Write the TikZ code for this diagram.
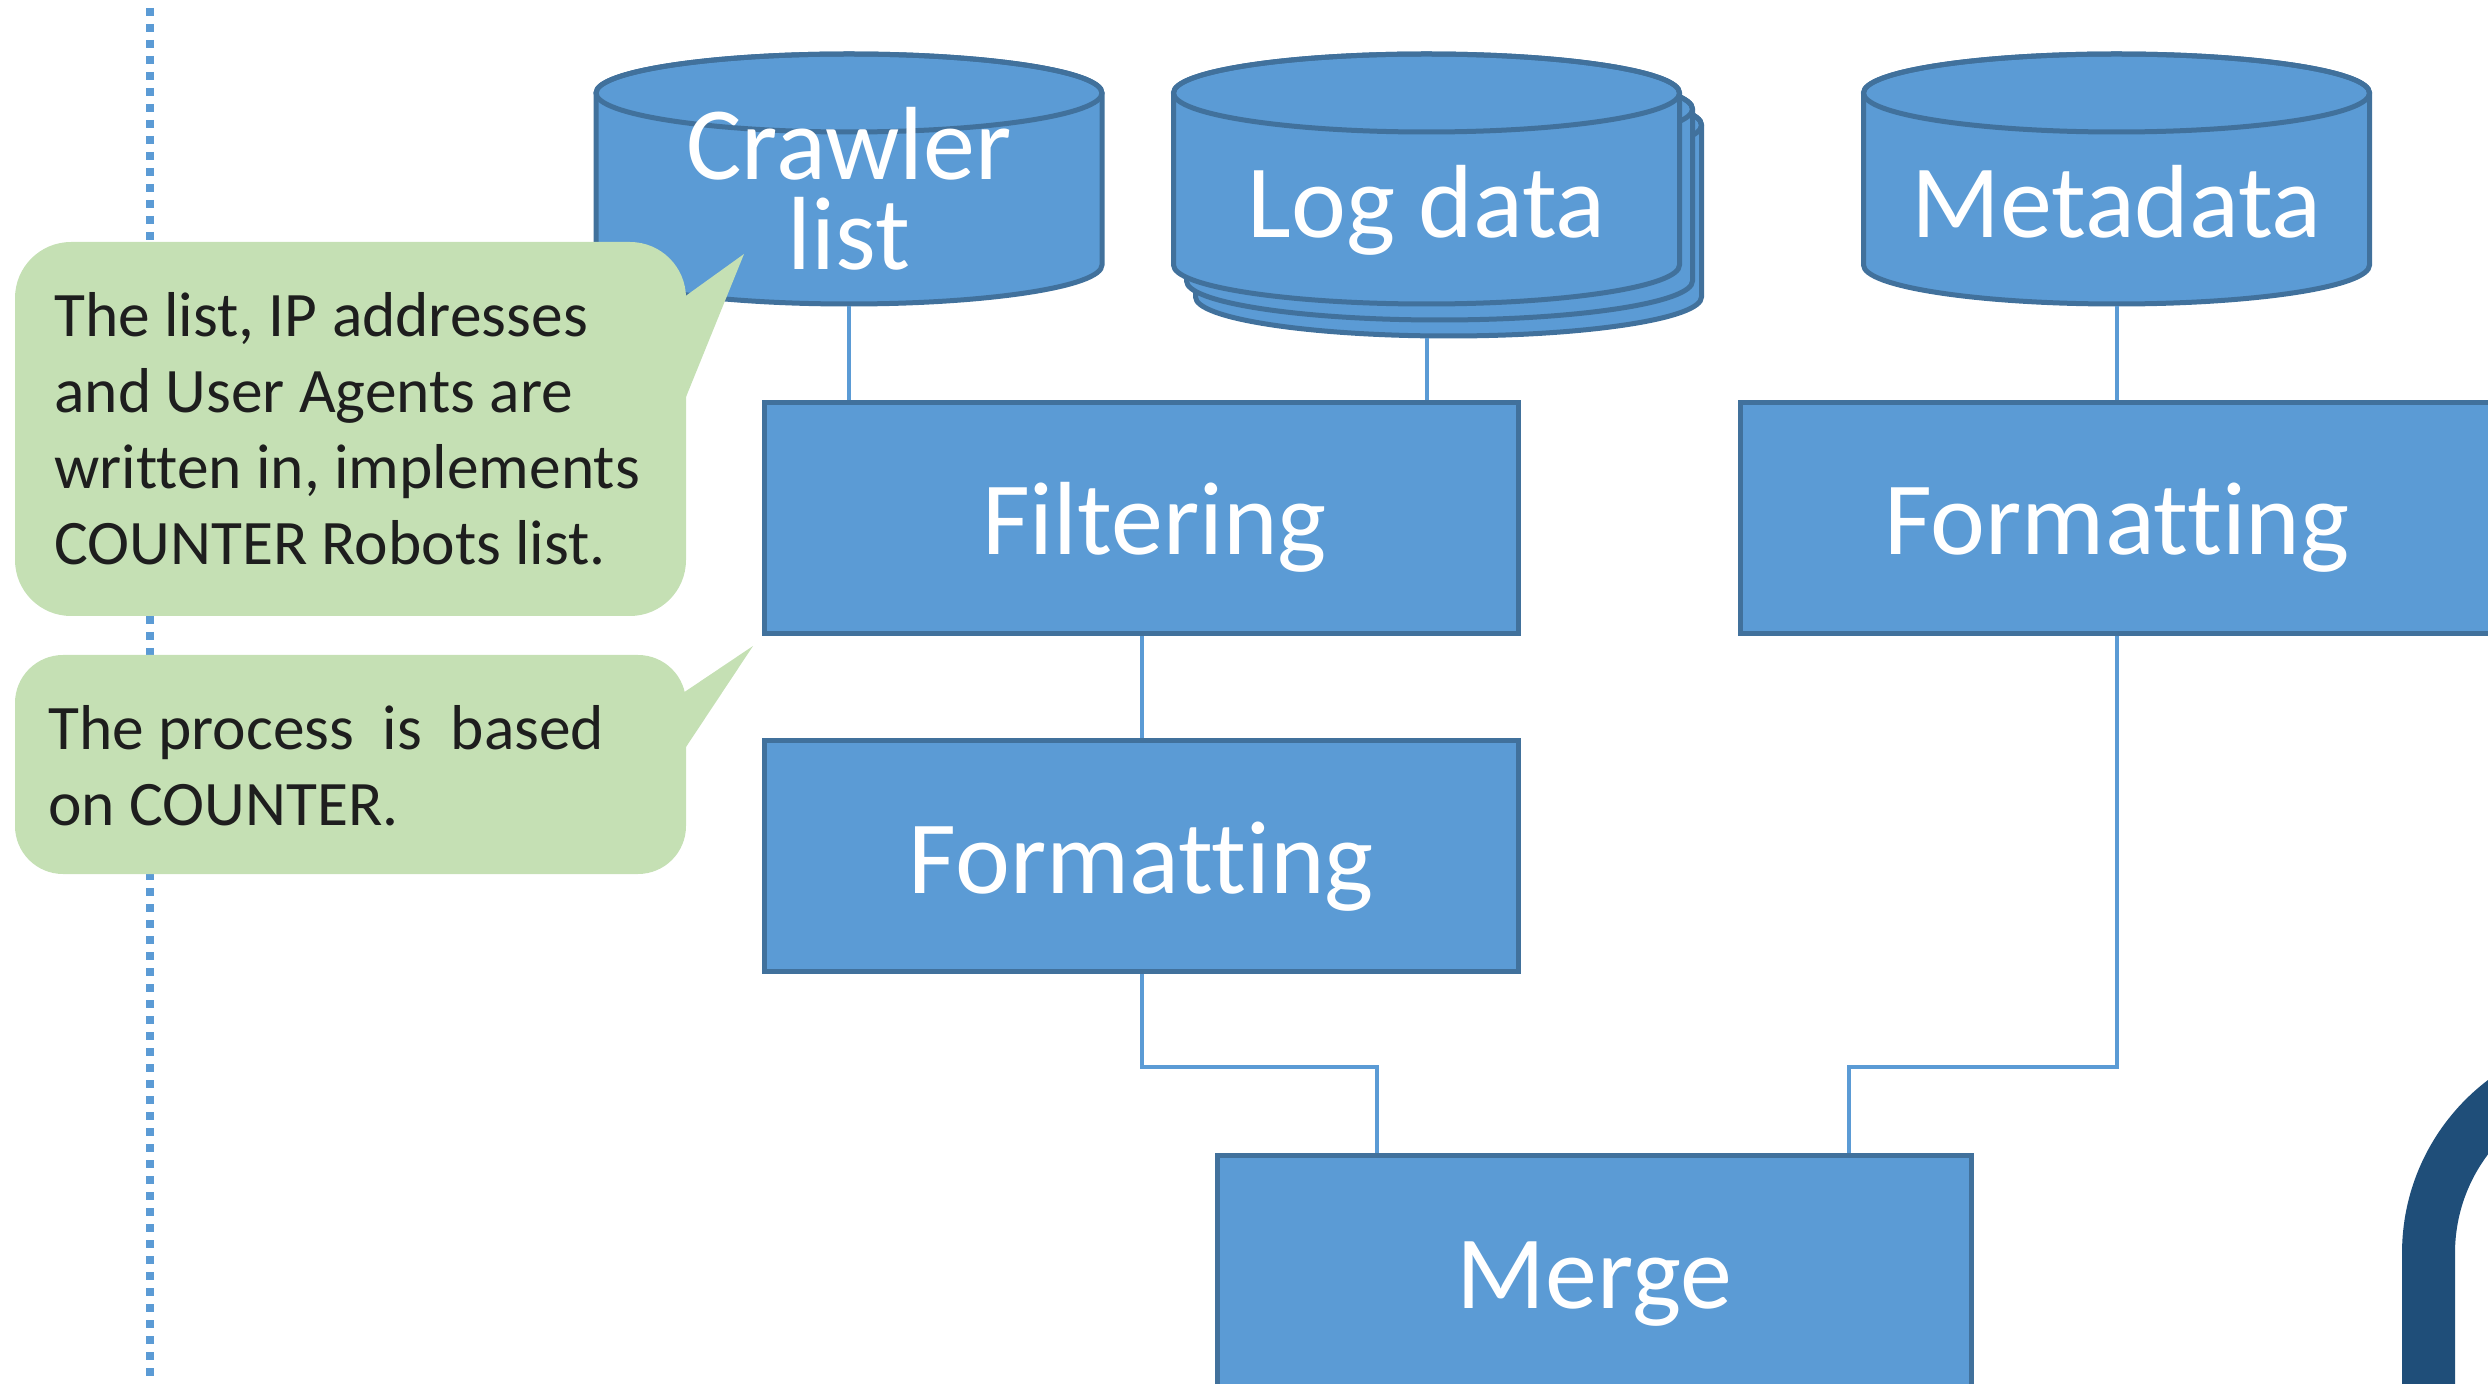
\documentclass[tikz,border=0pt]{standalone}
\usepackage{fontspec}
\setmainfont{Carlito}[Ligatures=NoCommon,RawFeature={-liga;-clig;-dlig;-calt}]
\definecolor{boxblue}{HTML}{5B9BD5}
\definecolor{boxedge}{HTML}{41719C}
\definecolor{notegreen}{HTML}{C5E0B4}
\definecolor{darkarc}{HTML}{1F4E79}
\definecolor{notetext}{HTML}{1E1E1E}
\newcommand\drawcyl[3]{%
  \path[cylpart] (#1-253,#2) -- (#1-253,#3)
    arc[start angle=180,end angle=0,x radius=253,y radius=39]
    -- (#1+253,#2)
    arc[start angle=0,end angle=-180,x radius=253,y radius=39] -- cycle;
  \draw[cylpart,fill=none] (#1,#2) ellipse[x radius=253,y radius=39];}
\begin{document}
\begin{tikzpicture}[x=0.5pt,y=-0.5pt,
  procbox/.style={draw=boxedge,fill=boxblue,line width=2.5pt,
    minimum width=377pt,minimum height=115.5pt,inner sep=0pt,text=white,
    font=\fontsize{52}{52}\selectfont,text height=45pt,text depth=8pt},
  cylpart/.style={draw=boxedge,fill=boxblue,line width=2.5pt},
  cyltext/.style={text=white,font=\fontsize{52}{45}\selectfont,align=center,inner sep=0pt},
  link/.style={draw=boxblue,line width=2pt},
  notebg/.style={fill=notegreen},
  notetxt/.style={text=notetext,font=\fontsize{31.7}{38}\selectfont,align=left,inner sep=0pt},
  dotline/.style={draw=boxblue,line width=4pt,dash pattern=on 4pt off 4pt,dash phase=4pt}]
\useasboundingbox (0,0) rectangle (2488,1384);
\clip (0,0) rectangle (2488,1384);

% dotted guide line
\draw[dotline] (150,0) -- (150,1380);

% cylinders
\drawcyl{849}{93}{265}
\drawcyl{1448.5}{125}{297}
\drawcyl{1439.5}{109}{281}
\drawcyl{1426.5}{93}{265}
\drawcyl{2116.5}{93}{265}
\node[cyltext,anchor=base] (crawler) at (849,270) {Crawler\\list};
\node[cyltext,anchor=base] (logdata) at (1426.5,238) {Log data};
\node[cyltext,anchor=base] (metadata) at (2116.5,238) {Metadata};
\coordinate (crawlerbot) at (849,306);
\coordinate (logbot) at (1427,338);
\coordinate (metabot) at (2116.5,306);

% process boxes
\node[procbox] (filter) at (1141.5,518) {\hspace*{13pt}Filtering};
\node[procbox] (fmtL) at (1141.5,856) {Formatting};
\node[procbox] (fmtR) at (2117,518) {Formatting};
\node[procbox] (merge) at (1594.5,1271) {Merge};

% connectors
\coordinate (mL) at (1377,1067);
\coordinate (mR) at (1849,1067);
\draw[link] (crawlerbot) -- (crawlerbot |- filter.north);
\draw[link] (logbot) -- (logbot |- filter.north);
\draw[link] (metabot) -- (metabot |- fmtR.north);
\draw[link] (filter.south) -- (fmtL.north);
\draw[link] (fmtL.south) |- (mL) -- (mL |- merge.north);
\draw[link] (fmtR.south) |- (mR) -- (mR |- merge.north);

% callouts
\fill[notebg,rounded corners=28pt] (15,242) rectangle (686,616);
\fill[notebg] (680,300) -- (744,254) -- (686,397) -- (680,397) -- cycle;
\fill[notebg,rounded corners=24pt] (15,655) rectangle (686,874);
\fill[notebg] (680,695) -- (753,646) -- (686,747) -- (680,747) -- cycle;
\node[notetxt,anchor=base west] (note1) at (54,565)
  {The list, IP addresses\\and User Agents are\\written in, implements\\COUNTER Robots list.};
\node[notetxt,anchor=base west] (note2) at (48,825)
  {The process\ \ is\ \ based\\on COUNTER.};

% dark arc at bottom right
\draw[darkarc,line width=26.5pt] (2428.5,1400) -- (2428.5,1253)
  arc[start angle=180,end angle=270,radius=190.5];
\end{tikzpicture}
\end{document}
